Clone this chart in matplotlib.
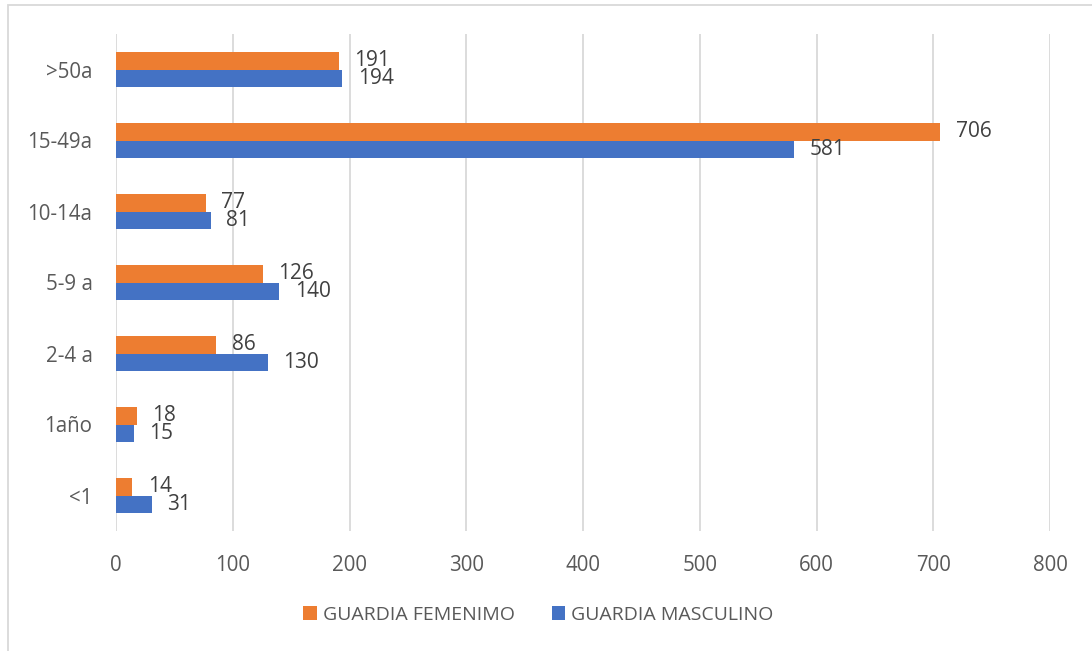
import numpy as np
import matplotlib
matplotlib.use("Agg")
import matplotlib.pyplot as plt
from matplotlib.patches import Rectangle

plt.rcParams['font.family'] = ['Open Sans', 'DejaVu Sans']

# data (bottom to top)
categories = ['<1', '1año', '2-4 a', '5-9 a', '10-14a', '15-49a', '>50a']
femenino = [14, 18, 86, 126, 77, 706, 191]
masculino = [31, 15, 130, 140, 81, 581, 194]
series_names = ['GUARDIA FEMENIMO', 'GUARDIA MASCULINO']

orange = '#ED7D31'
blue = '#4472C4'
grid_col = '#D9D9D9'
tick_col = '#595959'
label_col = '#404040'

fig = plt.figure(figsize=(10.92, 6.51), dpi=100)
ax = fig.add_axes([116/1092, 120/651, 934/1092, 497/651])

y = np.arange(len(categories))
h = 0.25
b1 = ax.barh(y + h/2, femenino, height=h, color=orange, label=series_names[0], zorder=3)
b2 = ax.barh(y - h/2, masculino, height=h, color=blue, label=series_names[1], zorder=3)

for bars, vals in ((b1, femenino), (b2, masculino)):
    for bar, v in zip(bars, vals):
        ax.annotate(str(v), (bar.get_width(), bar.get_y() + bar.get_height()/2),
                    xytext=(11, 0), textcoords='offset points',
                    ha='left', va='center', fontsize=15, color=label_col, zorder=4)

ax.set_xlim(0, 800)
ax.set_ylim(-0.5, len(categories) - 0.5)
ax.set_xticks(np.arange(0, 801, 100))
ax.set_yticks(y)
ax.set_yticklabels(categories)
ax.tick_params(axis='both', length=0, labelsize=14.8, labelcolor=tick_col)
ax.tick_params(axis='x', pad=17)
ax.tick_params(axis='y', pad=17)
ax.grid(axis='x', color=grid_col, linewidth=1.3, zorder=0)
for s in ax.spines.values():
    s.set_visible(False)

leg = fig.legend(handles=[b1, b2], loc='center', bbox_to_anchor=(0.493, 36/651),
                 ncol=2, frameon=False, fontsize=14, labelcolor=tick_col,
                 handlelength=0.7, handleheight=0.7, handletextpad=0.3, columnspacing=1.9)

# light outer border of the chart area
fig.patches.append(Rectangle((8/1092, -0.1), 1.2, (651 - 4.5)/651 + 0.1,
                             transform=fig.transFigure, fill=False,
                             edgecolor=grid_col, linewidth=1.3, clip_on=False))

fig.savefig('out.png', dpi=100)
